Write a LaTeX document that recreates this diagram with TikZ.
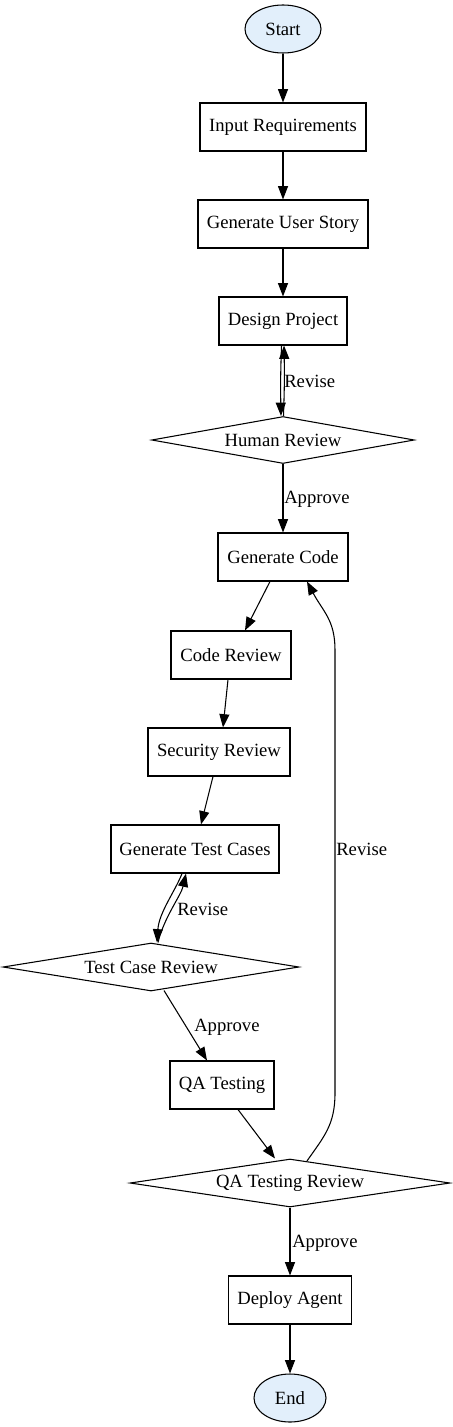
\documentclass[tikz,border=0pt]{standalone}
\usepackage{fontspec}
\setmainfont{Liberation Serif}
\usetikzlibrary{shapes.geometric,arrows.meta,calc}
\definecolor{termfill}{HTML}{E2EFFB}
\tikzset{
  every node/.style={font=\fontsize{14pt}{16pt}\selectfont, text=black},
  box/.style={draw=black, line width=0.8pt, rectangle, minimum height=36pt, inner sep=0pt},
  term/.style={draw=black, line width=0.8pt, ellipse, fill=termfill, minimum height=36pt, inner sep=0pt},
  decide/.style={draw=black, line width=0.8pt, diamond, aspect=6, inner sep=0pt, minimum height=36pt},
  arr/.style={draw=black, line width=0.8pt, -{Triangle[length=10pt,width=7.5pt]}},
  lbl/.style={anchor=west, inner sep=0pt}
}
\begin{document}
\begin{tikzpicture}[x=0.75pt, y=-0.75pt]
\useasboundingbox (0,0) rectangle (453,1427);
% nodes
\node[term, minimum width=57pt] (start) at (283,29) {Start};
\node[box, minimum width=124.5pt] (ir) at (283,127) {Input Requirements};
\node[box, minimum width=127.5pt] (gus) at (283,224) {Generate User Story};
\node[box, minimum width=96pt] (dp) at (283,321) {Design Project};
\node[decide, minimum width=197pt, minimum height=35.25pt] (hr) at (283,440) {Human Review};
\node[box, minimum width=97.5pt] (gc) at (283,557) {Generate Code};
\node[box, minimum width=90pt] (cr) at (231,655) {Code Review};
\node[box, minimum width=106.5pt] (sr) at (219,752) {Security Review};
\node[box, minimum width=126pt] (gtc) at (195,849) {Generate Test Cases};
\node[decide, minimum width=222pt] (tcr) at (151,967) {Test Case Review};
\node[box, minimum width=78pt] (qa) at (222,1085) {QA Testing};
\node[decide, minimum width=240pt] (qatr) at (290,1183) {QA Testing Review};
\node[box, minimum width=92.25pt] (da) at (290,1300) {Deploy Agent};
\node[term, minimum width=54pt] (end) at (290,1398) {End};
% edges
\draw[arr] (start) -- (ir);
\draw[arr] (ir) -- (gus);
\draw[arr] (gus) -- (dp);
\draw[arr] ($(dp.south)+(-1.5,0)$) .. controls ($(dp.south)+(-2.5,30)$) and ($(hr.north)+(-2.5,-30)$) .. ($(hr.north)+(-2,0)$);
\draw[arr] ($(hr.north)+(0.5,0)$) .. controls ($(hr.north)+(1.5,-30)$) and ($(dp.south)+(1.5,30)$) .. ($(dp.south)+(1,0)$);
\node[lbl] (l1) at (284,381) {Revise};
\draw[arr] (hr.south) -- (gc.north);
\node[lbl] (l2) at (284,499) {Approve};
\draw[arr] ($(gc.south)+(-13,0)$) -- ($(cr.north)+(14,0)$);
\draw[arr] ($(cr.south)+(-3,0)$) -- ($(sr.north)+(4,0)$);
\draw[arr] ($(sr.south)+(-6,0)$) -- ($(gtc.north)+(6,0)$);
\draw[arr] ($(gtc.south)+(-13,0)$) .. controls ($(gtc.south)+(-20,18)$) and ($(tcr.north)+(8,-30)$) .. ($(tcr.north)+(6,0)$);
\draw[arr] ($(tcr.north)+(7,0)$) .. controls ($(tcr.north)+(13,-25)$) and ($(gtc.south)+(-14,22)$) .. ($(gtc.south)+(-9,0)$);
\node[lbl] (l3) at (177,909) {Revise};
\draw[arr] ($(tcr.south)+(13,-1)$) -- ($(qa.north)+(-15,0)$);
\node[lbl] (l4) at (194,1027) {Approve};
\draw[arr] ($(qa.south)+(16,0)$) -- ($(qatr.north)+(-15,0)$);
\draw[arr] ($(qatr.north)+(17,2.5)$) .. controls ($(qatr.north)+(34,-22)$) and (335,1125) .. (335,1093) -- (335,650) .. controls (335,620) and ($(gc.south)+(40,30)$) .. ($(gc.south)+(24,0)$);
\node[lbl] (l5) at (336,849) {Revise};
\draw[arr] (qatr.south) -- (da.north);
\node[lbl] (l6) at (292,1243) {Approve};
\draw[arr] (da) -- (end);
\end{tikzpicture}
\end{document}
